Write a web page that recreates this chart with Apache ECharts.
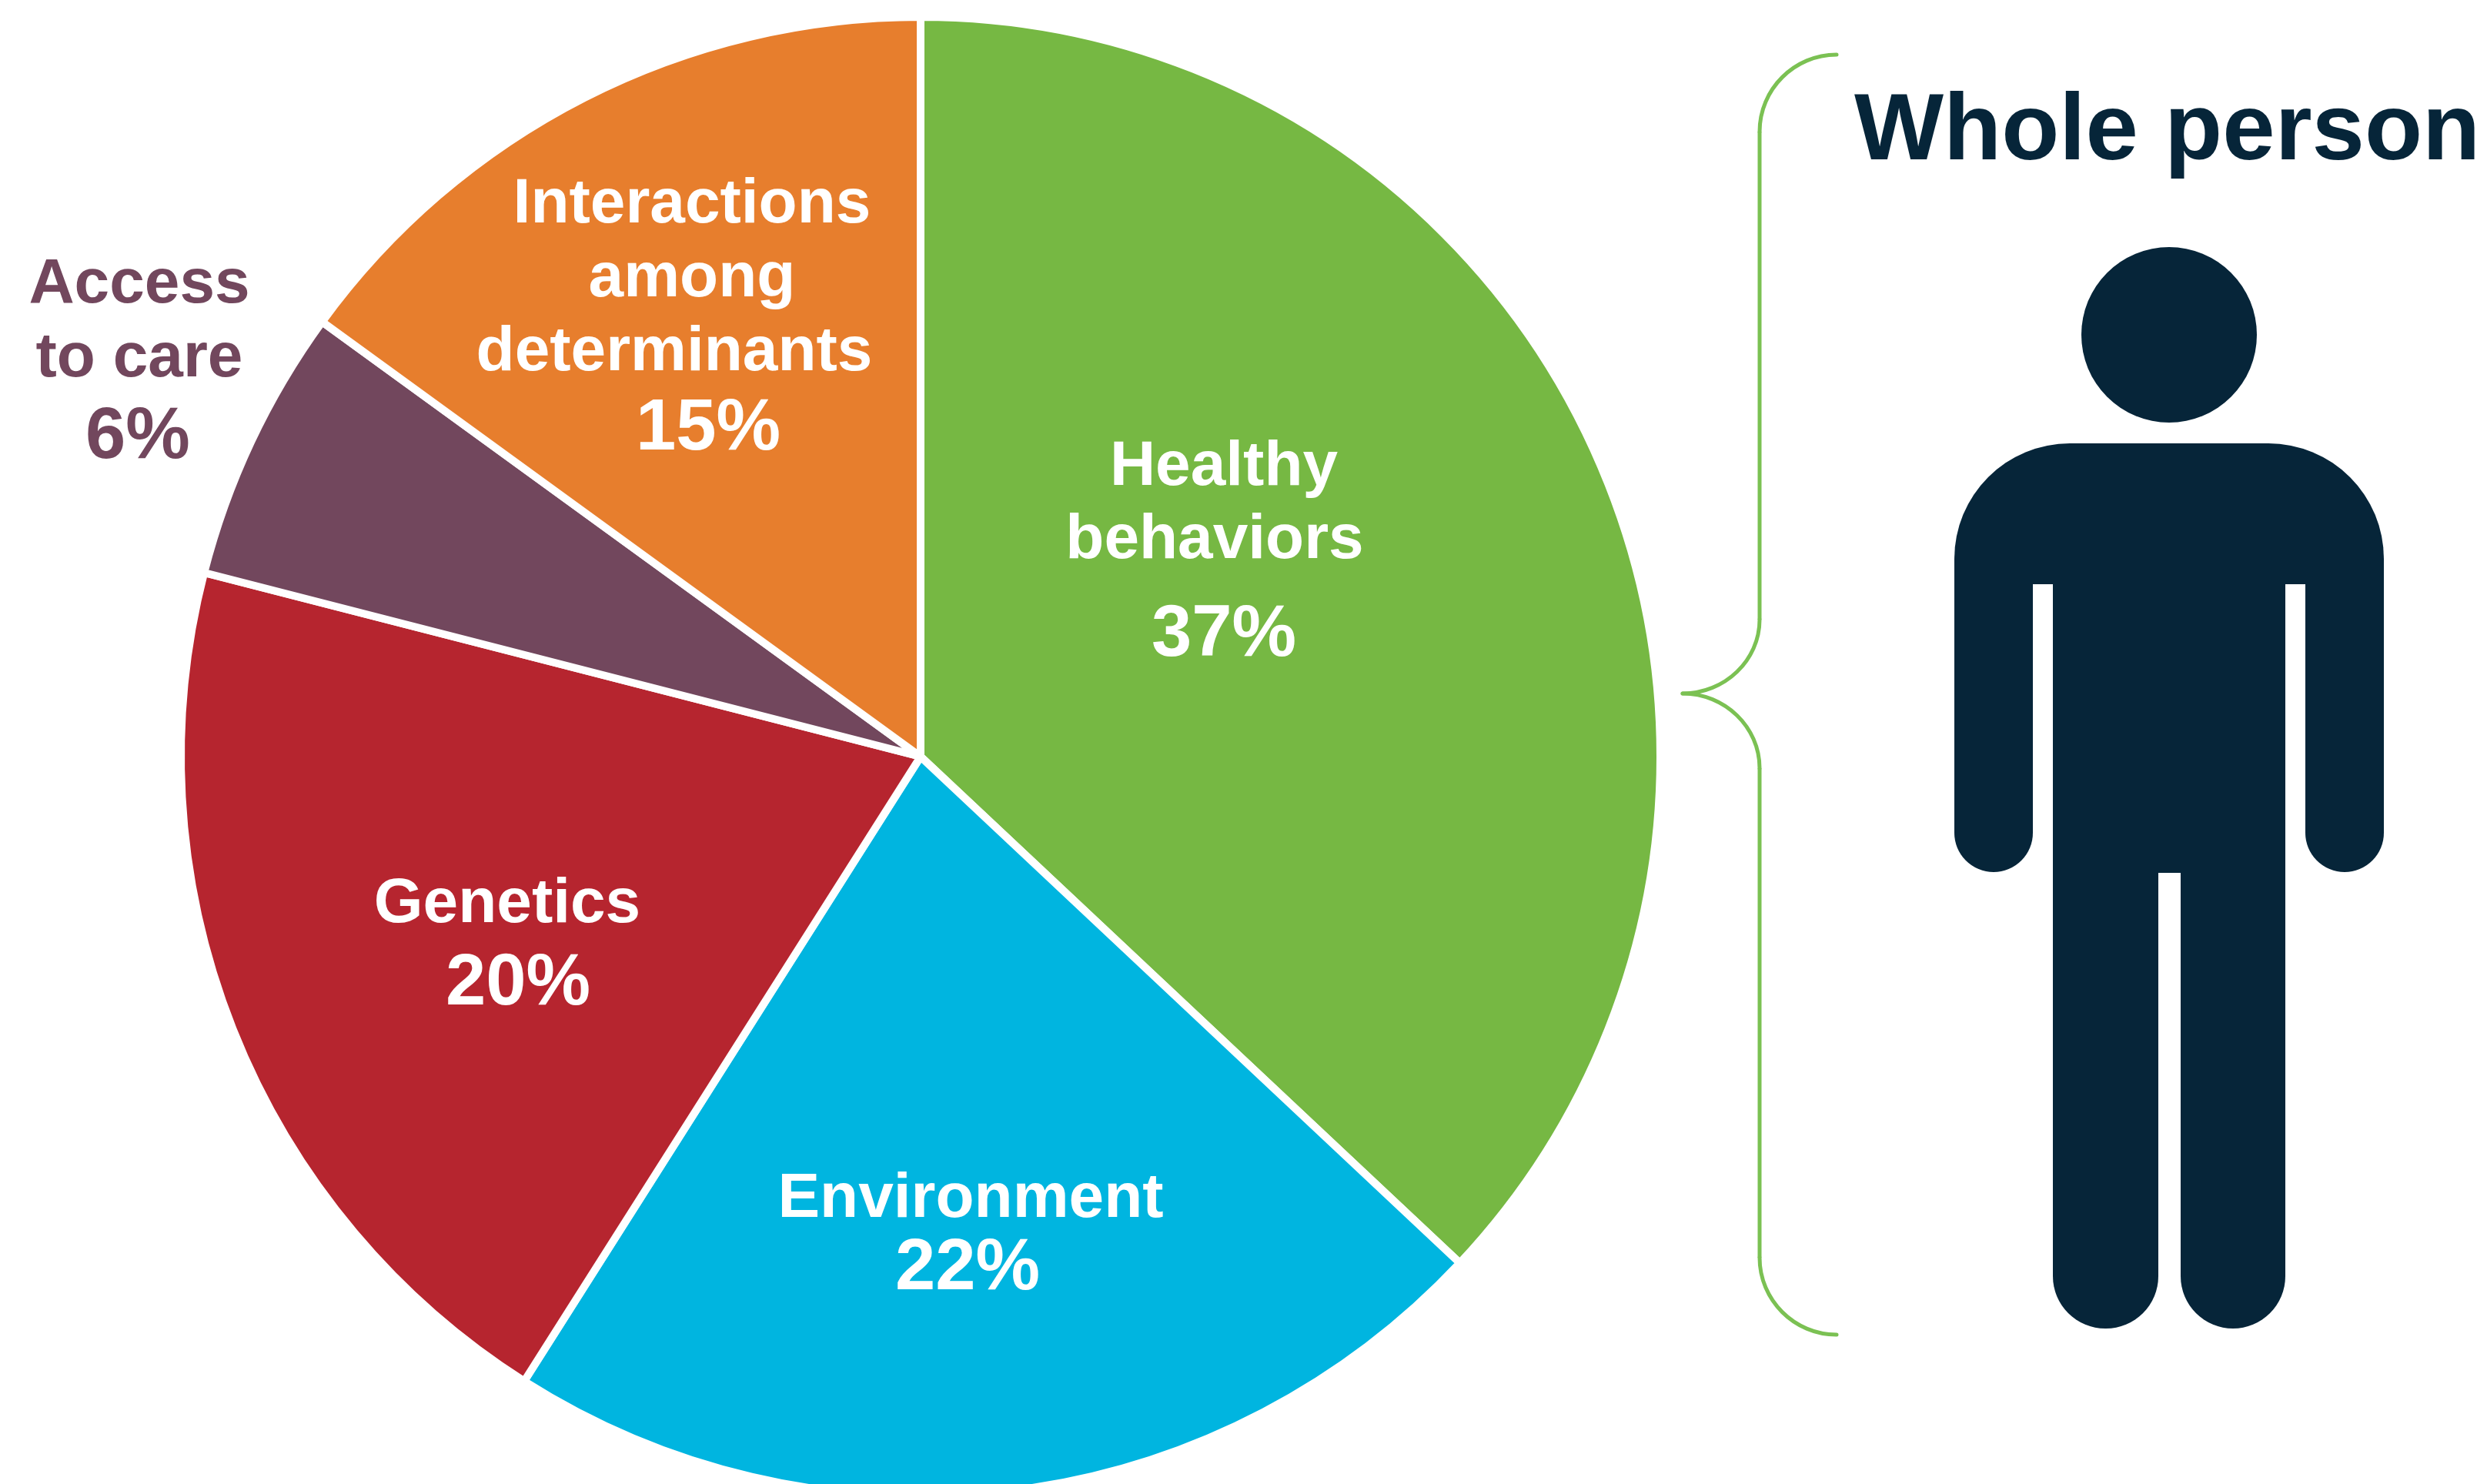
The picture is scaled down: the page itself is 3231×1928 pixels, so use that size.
<!DOCTYPE html>
<html>
<head>
<meta charset="utf-8">
<style>html,body{margin:0;padding:0;background:#fff}#c{width:3231px;height:1928px}</style>
<script src="https://cdn.jsdelivr.net/npm/echarts@6/dist/echarts.min.js"></script>
</head>
<body>
<div id="c"></div>
<script>
const categories = ['Healthy behaviors', 'Environment', 'Genetics', 'Access to care', 'Interactions among determinants'];
const labelLines = [['Healthy', 'behaviors'], ['Environment'], ['Genetics'], ['Access', 'to care'], ['Interactions', 'among', 'determinants']];
const values = [37, 22, 20, 6, 15];
const title = 'Whole person';

const colors = ['#76B843', '#00B5E0', '#B6252F', '#72475D', '#E77E2D'];
const NAVY = '#062539';
const FONT = '"Liberation Sans", Arial, sans-serif';
// label placement: block centre, per-line height, per-line horizontal shift
const labelPlace = [
  {x: 1590, y: 731, h: [94, 96, 152], pad: [0, -24, 0]},
  {x: 1261, y: 1604, h: [91, 91], pad: [0, -8]},
  {x: 659, y: 1232, h: [94, 114], pad: [0, 28]},
  {x: 181, y: 473, h: [96, 96, 110], pad: [0, 0, -4], color: '#72475D'},
  {x: 899, y: 414, h: [96, 96, 96, 104], pad: [0, 0, -46, 42]}
];

function richFor(i) {
  const p = labelPlace[i], rich = {};
  const n = labelLines[i].length;
  for (let k = 0; k <= n; k++) {
    const d = p.pad[k];
    rich['l' + k] = {
      fontFamily: FONT, fontWeight: 'bold',
      fontSize: k === n ? 94 : 82,
      lineHeight: p.h[k],
      color: p.color || '#ffffff',
      padding: d > 0 ? [0, 0, 0, d] : [0, -d, 0, 0]
    };
  }
  return rich;
}

const chart = echarts.init(document.getElementById('c'), null, {renderer: 'canvas', width: 3231, height: 1928});

const K = 0.55;
function quarter(x1, y1, x2, y2, horizontalFirst) {
  const dx = x2 - x1, dy = y2 - y1;
  const s = horizontalFirst
    ? {x1, y1, x2, y2, cpx1: x1 + dx * K, cpy1: y1, cpx2: x2, cpy2: y2 - dy * K}
    : {x1, y1, x2, y2, cpx1: x1, cpy1: y1 + dy * K, cpx2: x2 - dx * K, cpy2: y2};
  return {type: 'bezierCurve', shape: s, style: {fill: null, stroke: '#7BC153', lineWidth: 5, lineCap: 'round'}, silent: true};
}
function vline(x, y1, y2) {
  return {type: 'line', shape: {x1: x, y1, x2: x, y2}, style: {stroke: '#7BC153', lineWidth: 5}, silent: true};
}
function block(x, y, w, h, r) {
  return {type: 'rect', shape: {x, y, width: w, height: h, r}, style: {fill: NAVY}, silent: true};
}

chart.setOption({
  animation: false,
  backgroundColor: '#ffffff',
  title: {
    text: title, left: 2409, top: 112, padding: 0,
    textStyle: {fontFamily: FONT, fontWeight: 'bold', fontSize: 123, color: NAVY}
  },
  graphic: [
    // brace
    quarter(2386, 71, 2286, 171, true),
    vline(2286, 171, 805),
    quarter(2286, 805, 2186, 901, false),
    quarter(2186, 901, 2286, 998, true),
    vline(2286, 998, 1634),
    quarter(2286, 1634, 2386, 1734, false),
    // person
    {type: 'circle', shape: {cx: 2818, cy: 435, r: 114}, style: {fill: NAVY}, silent: true},
    block(2539, 576, 558, 183, [150, 150, 0, 0]),
    block(2667, 700, 302, 434, 0),
    block(2539, 730, 102, 403, [0, 0, 51, 51]),
    block(2995, 730, 102, 403, [0, 0, 51, 51]),
    block(2667, 1100, 137, 626, [0, 0, 68, 68]),
    block(2833, 1100, 136, 626, [0, 0, 68, 68])
  ],
  series: [{
    type: 'pie',
    center: [1196, 983],
    radius: [0, 961],
    startAngle: 90,
    clockwise: true,
    avoidLabelOverlap: false,
    silent: true,
    itemStyle: {borderColor: '#ffffff', borderWidth: 10},
    labelLine: {show: false},
    label: {position: 'inside'},
    labelLayout: function (params) {
      const p = labelPlace[params.dataIndex];
      return {x: p.x, y: p.y, align: 'center', verticalAlign: 'middle'};
    },
    data: categories.map(function (name, i) {
      const lines = labelLines[i].map(function (t, k) { return '{l' + k + '|' + t + '}'; });
      lines.push('{l' + labelLines[i].length + '|' + values[i] + '%}');
      return {
        name: name,
        value: values[i],
        itemStyle: {color: colors[i]},
        label: {show: true, position: 'inside', formatter: lines.join('\n'), rich: richFor(i)}
      };
    })
  }]
});
</script>
</body>
</html>
